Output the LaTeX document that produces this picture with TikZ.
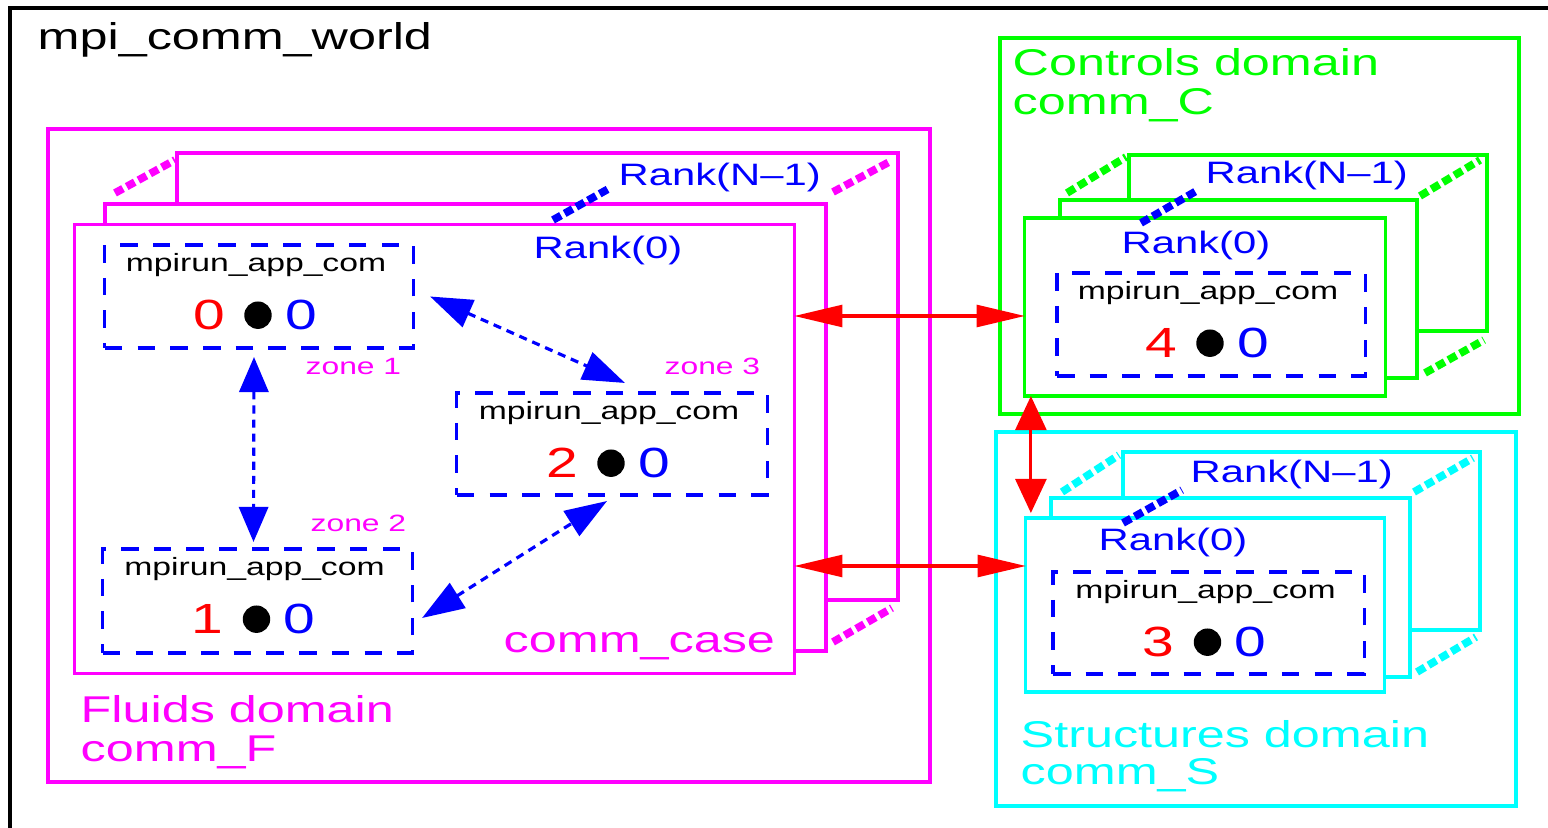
\documentclass[tikz,border=0pt]{standalone}
\usepackage{fontspec}
\setmainfont{Liberation Sans}[FakeStretch=1.35]
\usetikzlibrary{arrows.meta, positioning, calc}
\definecolor{mymag}{RGB}{255,0,255}
\definecolor{mygrn}{RGB}{0,255,0}
\definecolor{mycyn}{RGB}{0,255,255}
\definecolor{myblue}{RGB}{0,0,255}
\definecolor{myred}{RGB}{255,0,0}
\newcommand{\rankdot}[1]{{\color{myred}#1}\hspace{5.5pt}\tikz[baseline=-4.2pt]\fill (0,0) circle (3.9pt);\hspace{3.8pt}{\color{myblue}0}}
\tikzset{
  domainbox/.style={line width=0.9pt},
  stackbox/.style={line width=0.9pt, fill=white},
  frontbox/.style={rectangle, line width=0.9pt, fill=white, inner sep=0pt, outer sep=0pt},
  appbox/.style={rectangle, draw=myblue, line width=0.9pt, dash pattern=on 5pt off 4.3pt,
    inner sep=0pt, outer sep=0pt},
  depthline/.style={line width=2.2pt, dash pattern=on 2.6pt off 1.2pt},
  bigtext/.style={inner sep=0pt, anchor=base west, font=\fontsize{10.6}{12}\selectfont},
  ranktext/.style={inner sep=0pt, anchor=base west, text=myblue, font=\fontsize{8.8}{10}\selectfont},
  zonetext/.style={inner sep=0pt, anchor=base west, text=mymag, font=\fontsize{6.7}{8}\selectfont},
  applabel/.style={inner sep=0pt, anchor=base, font=\fontsize{7.1}{8}\selectfont},
  numtext/.style={inner sep=0pt, anchor=base, font=\fontsize{12}{14}\selectfont},
  redarrow/.style={{Triangle[length=13.7pt,width=6.2pt]}-{Triangle[length=13.7pt,width=6.2pt]},
    line width=0.9pt, color=myred},
  bluearrow/.style={{Triangle[length=10pt,width=8.3pt]}-{Triangle[length=10pt,width=8.3pt]},
    line width=0.9pt, color=myblue, dash pattern=on 2.3pt off 1.7pt}
}

\begin{document}
\begin{tikzpicture}[x=0.01cm, y=-0.01cm]
  \useasboundingbox (0,0) rectangle (1548,828);

  % world communicator
  \draw [line width=0.9pt] (10,828) |- (1548,8);
  \node [bigtext] (world) at (37,50) {mpi\_comm\_world};

  % fluids domain
  \draw [domainbox, draw=mymag] (48,129) rectangle (930,782);
  \draw [stackbox, draw=mymag] (177,153) rectangle (898,600);
  \draw [stackbox, draw=mymag] (105,204) rectangle (826,651);
  \node [frontbox, draw=mymag, minimum width=7.19cm, minimum height=4.48cm] (ffront) at (434.5,449) {};
  \draw [depthline, mymag] (115,193) -- (175,160);
  \draw [depthline, mymag] (833,192) -- (891,161);
  \draw [depthline, mymag] (833,642) -- (892,608);
  \draw [depthline, myblue] (553,220) -- (610,188);
  \node [ranktext] (fNm1) at (618,186) {Rank(N--1)};
  \node [ranktext] (f0) at (533,259) {Rank(0)};
  \node [bigtext, text=mymag] (fcase) at (503,653) {comm\_case};
  \node [bigtext, text=mymag] (fname) at (80,723) {Fluids domain};
  \node [bigtext, text=mymag] (fcomm) at (80,762) {comm\_F};

  \node [appbox, minimum width=3.08cm, minimum height=1.03cm] (z0) at (259,296.5) {};
  \node [applabel] at ($(z0.north)+(-3,27)$) {mpirun\_app\_com};
  \node [numtext] at ($(z0.north)+(-4,85)$) {\rankdot{0}};
  \node [zonetext] (zl1) at (305,375) {zone 1};

  \node [appbox, minimum width=3.09cm, minimum height=1.04cm] (z1) at (257.5,601) {};
  \node [applabel] at ($(z1.north)+(-3,27)$) {mpirun\_app\_com};
  \node [numtext] at ($(z1.north)+(-4,85)$) {\rankdot{1}};
  \node [zonetext] (zl2) at (310,532) {zone 2};

  \node [appbox, minimum width=3.10cm, minimum height=1.02cm] (z2) at (612,444) {};
  \node [applabel] at ($(z2.north)+(-3,27)$) {mpirun\_app\_com};
  \node [numtext] at ($(z2.north)+(-4,85)$) {\rankdot{2}};
  \node [zonetext] (zl3) at (664,375) {zone 3};

  % controls domain
  \draw [domainbox, draw=mygrn] (1000,38) rectangle (1519,414);
  \draw [stackbox, draw=mygrn] (1129,155) rectangle (1487,331);
  \draw [stackbox, draw=mygrn] (1060,200) rectangle (1417,378);
  \node [frontbox, draw=mygrn, minimum width=3.60cm, minimum height=1.78cm] (cfront) at (1205,307) {};
  \draw [depthline, mygrn] (1067,193) -- (1126,157);
  \draw [depthline, mygrn] (1420,196) -- (1480,160);
  \draw [depthline, mygrn] (1425,373) -- (1484,340);
  \draw [depthline, myblue] (1141,223) -- (1198,190);
  \node [ranktext] (cNm1) at (1205,184) {Rank(N--1)};
  \node [ranktext] (c0) at (1121,254) {Rank(0)};
  \node [bigtext, text=mygrn] (cname) at (1012,76) {Controls domain};
  \node [bigtext, text=mygrn] (ccomm) at (1012,115) {comm\_C};

  \node [appbox, minimum width=3.08cm, minimum height=1.03cm] (zc) at (1211,324.5) {};
  \node [applabel] at ($(zc.north)+(-3,27)$) {mpirun\_app\_com};
  \node [numtext] at ($(zc.north)+(-4,85)$) {\rankdot{4}};

  % structures domain
  \draw [domainbox, draw=mycyn] (996,432) rectangle (1516,806);
  \draw [stackbox, draw=mycyn] (1123,452) rectangle (1480,630);
  \draw [stackbox, draw=mycyn] (1051,498) rectangle (1410,677);
  \node [frontbox, draw=mycyn, minimum width=3.58cm, minimum height=1.74cm] (sfront) at (1205,605) {};
  \draw [depthline, mycyn] (1062,492) -- (1119,455);
  \draw [depthline, mycyn] (1414,492) -- (1473,458);
  \draw [depthline, mycyn] (1417,672) -- (1476,637);
  \draw [depthline, myblue] (1123,523) -- (1182,490);
  \node [ranktext] (sNm1) at (1190,483) {Rank(N--1)};
  \node [ranktext] (s0) at (1098,551) {Rank(0)};
  \node [bigtext, text=mycyn] (sname) at (1020,748) {Structures domain};
  \node [bigtext, text=mycyn] (scomm) at (1020,785) {comm\_S};

  \node [appbox, minimum width=3.11cm, minimum height=1.02cm] (zs) at (1208.5,623) {};
  \node [applabel] at ($(zs.north)+(-3,27)$) {mpirun\_app\_com};
  \node [numtext] at ($(zs.north)+(-4,85)$) {\rankdot{3}};

  % zone exchanges
  \draw [bluearrow] ($(z0.south)+(-5,9)$) -- ($(z1.north)+(-4,-7)$);
  \draw [bluearrow, {Triangle[length=12pt,width=8.3pt]}-{Triangle[length=12pt,width=8.3pt]}]
    ($(z0.east)+(17,0)$) -- ($(z2.north)+(13,-10)$);
  \draw [bluearrow, {Triangle[length=12pt,width=8.3pt]}-{Triangle[length=12pt,width=8.3pt]}]
    ($(z1.east)+(10,17)$) -- ($(z2.south)+(-5,6)$);

  % domain coupling
  \coordinate (rc) at ($(cfront.west)+(0,9)$);
  \coordinate (rs) at ($(sfront.west)+(0,-39)$);
  \coordinate (rv) at ($(cfront.south west)+(6,0)$);
  \draw [redarrow] (ffront.east |- rc) -- (rc);
  \draw [redarrow] (ffront.east |- rs) -- (rs);
  \draw [redarrow, {Triangle[length=9.7pt,width=8.8pt]}-{Triangle[length=9.7pt,width=8.8pt]}, shorten >=1.4pt]
    (rv) -- (rv |- sfront.north);
\end{tikzpicture}
\end{document}
